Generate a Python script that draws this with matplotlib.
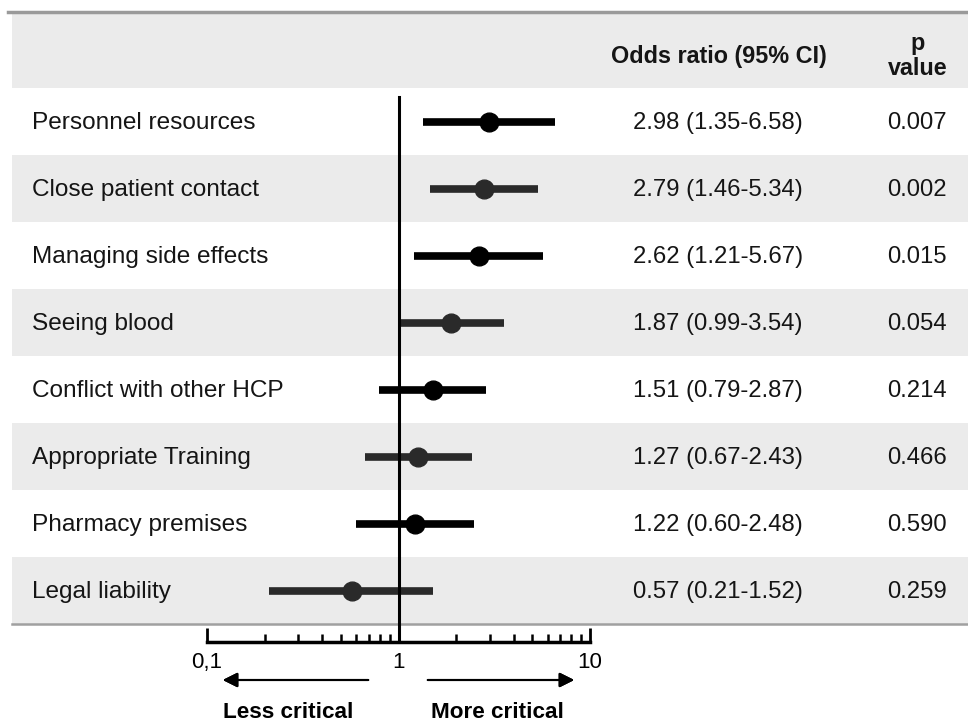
import numpy as np
import matplotlib.pyplot as plt
from matplotlib.patches import Rectangle

plt.rcParams['font.family'] = ['Liberation Sans', 'DejaVu Sans']

# data
labels = ["Personnel resources", "Close patient contact", "Managing side effects",
          "Seeing blood", "Conflict with other HCP", "Appropriate Training",
          "Pharmacy premises", "Legal liability"]
odds = [2.98, 2.79, 2.62, 1.87, 1.51, 1.27, 1.22, 0.57]
ci_low = [1.35, 1.46, 1.21, 0.99, 0.79, 0.67, 0.60, 0.21]
ci_high = [6.58, 5.34, 5.67, 3.54, 2.87, 2.43, 2.48, 1.52]
p_values = ["0.007", "0.002", "0.015", "0.054", "0.214", "0.466", "0.590", "0.259"]
tick_vals = [0.1, 1, 10]
tick_text = ["0,1", "1", "10"]

W, H = 968, 725
fig = plt.figure(figsize=(W / 100, H / 100), dpi=100)

def fx(px):
    return px / W

def fy(py):
    return 1 - py / H

top_px, head_px, bot_px = 12, 88, 624
n = len(labels)
row_h = (bot_px - head_px) / n
head_rows = (head_px - top_px) / row_h

# background / table axes
bg = fig.add_axes([0, fy(bot_px), 1, (bot_px - top_px) / H])
bg.set_xlim(0, W)
bg.set_ylim(n, -head_rows)
bg.axis('off')
band = '#ebebeb'
bg.add_patch(Rectangle((12, -head_rows), W, head_rows, color=band, lw=0))
for i in range(n):
    if i % 2 == 1:
        bg.add_patch(Rectangle((12, i), W, 1, color=band, lw=0))
bg.plot([8, W], [-head_rows, -head_rows], color='#9a9a9a', lw=2.5, clip_on=False)
bg.plot([12, W], [n, n], color='#a0a0a0', lw=1.8, clip_on=False)

txt_c = '#151515'
for i in range(n):
    yc = i + 0.52
    bg.text(32, yc, labels[i], fontsize=17.6, va='center', ha='left', color=txt_c)
    bg.text(718, yc, f"{odds[i]:.2f} ({ci_low[i]:.2f}-{ci_high[i]:.2f})",
            fontsize=17.2, va='center', ha='center', color=txt_c)
    bg.text(917, yc, p_values[i], fontsize=17.2, va='center', ha='center', color=txt_c)

hy = (56 - head_px) / row_h
bg.text(719, hy, "Odds ratio (95% CI)", fontsize=16.8, fontweight='bold',
        va='center', ha='center', color=txt_c)
bg.text(918, (43 - head_px) / row_h, "p", fontsize=16.8, fontweight='bold',
        va='center', ha='center', color=txt_c)
bg.text(918, (68 - head_px) / row_h, "value", fontsize=16.8, fontweight='bold',
        va='center', ha='center', color=txt_c)

# forest plot axes
x0, x1 = 207, 590
ax = fig.add_axes([fx(x0), fy(bot_px), (x1 - x0) / W, (bot_px - top_px) / H])
ax.set_xscale('log')
ax.set_xlim(0.1, 10)
ax.set_ylim(n, -head_rows)
ax.axis('off')
ax.plot([1, 1], [(97 - head_px) / row_h, n], color='black', lw=2.2, zorder=3)
for i in range(n):
    c = 'black' if i % 2 == 0 else '#2a2a2a'
    ax.plot([ci_low[i], ci_high[i]], [i + 0.5, i + 0.5], color=c, lw=5.5,
            solid_capstyle='butt', zorder=2)
    ax.plot(odds[i], i + 0.5, 'o', color=c, markersize=13.5, zorder=4)

# scale axis
sc = fig.add_axes([fx(x0), fy(642), (x1 - x0) / W, (642 - bot_px) / H])
sc.set_xscale('log')
sc.set_xlim(0.1, 10)
sc.set_ylim(0, 1)
for s in ['top', 'left', 'right']:
    sc.spines[s].set_visible(False)
sc.spines['bottom'].set_linewidth(2.5)
sc.set_yticks([])
sc.set_xticks(tick_vals)
sc.set_xticklabels(tick_text, fontsize=16)
sc.tick_params(axis='x', which='major', direction='in', length=10, width=2, pad=7)
sc.tick_params(axis='x', which='minor', direction='in', length=6, width=1.8)
sc.axvline(1, color='black', lw=2.2)
sc.patch.set_alpha(0)

# arrows and direction labels
fig.add_artist(plt.annotate('', xy=(fx(220), fy(680)), xytext=(fx(371), fy(680)),
                            xycoords='figure fraction',
                            arrowprops=dict(arrowstyle='-|>', color='black', lw=1.5,
                                            mutation_scale=22)))
fig.add_artist(plt.annotate('', xy=(fx(577), fy(680)), xytext=(fx(425), fy(680)),
                            xycoords='figure fraction',
                            arrowprops=dict(arrowstyle='-|>', color='black', lw=1.5,
                                            mutation_scale=22)))
fig.text(fx(288), fy(713), "Less critical", fontsize=16.2, fontweight='bold',
         ha='center', va='center')
fig.text(fx(497), fy(713), "More critical", fontsize=16.2, fontweight='bold',
         ha='center', va='center')

plt.savefig('out.png', dpi=100)
